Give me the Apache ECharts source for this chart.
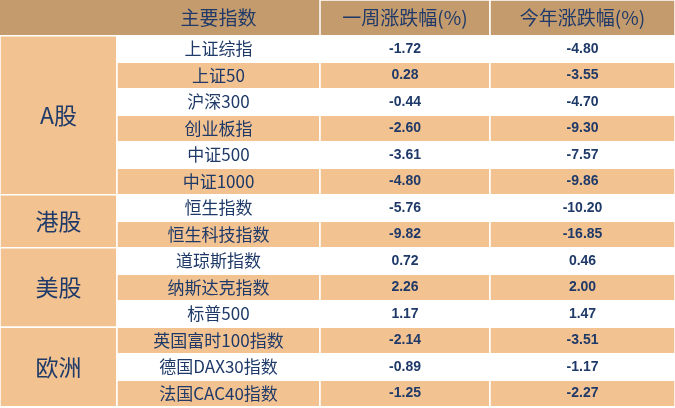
<!doctype html>
<html>
<head>
<meta charset="UTF-8">
<script src="https://cdn.jsdelivr.net/npm/echarts@6/dist/echarts.min.js"></script>
<style>html,body{margin:0;padding:0;background:#fff}</style>
</head>
<body>
<div id="main" style="width:675px;height:408px;"></div>
<script>
var headers = ['主要指数', '一周涨跌幅(%)', '今年涨跌幅(%)'];
var groups = ['A股', '港股', '美股', '欧洲'];
var groupSizes = [6, 2, 3, 3];
var names = ['上证综指', '上证50', '沪深300', '创业板指', '中证500', '中证1000', '恒生指数', '恒生科技指数',
    '道琼斯指数', '纳斯达克指数', '标普500', '英国富时100指数', '德国DAX30指数', '法国CAC40指数'];
var weekChg = [-1.72, 0.28, -0.44, -2.60, -3.61, -4.80, -5.76, -9.82, 0.72, 2.26, 1.17, -2.14, -0.89, -1.25];
var ytdChg = [-4.80, -3.55, -4.70, -9.30, -7.57, -9.86, -10.20, -16.85, 0.46, 2.00, 1.47, -3.51, -1.17, -2.27];

var colEdges = [0, 117, 320, 490, 675];
var HEAD = '#c49b6d', BAND = '#f2c291', WHITE = '#ffffff', TXT = '#1f3a68';

// cells: [x0, x1, y0, y1, text, fill, kind, stroke]
var cells = [];
cells.push([colEdges[0], colEdges[2], -1.35, 0, '', HEAD, 'h', 0]);
cells.push([colEdges[1], colEdges[2], -1.35, 0, headers[0], 'rgba(0,0,0,0)', 'h', 0]);
cells.push([colEdges[2], colEdges[3], -1.35, 0, headers[1], HEAD, 'h', 1]);
cells.push([colEdges[3], colEdges[4], -1.35, 0, headers[2], HEAD, 'h', 1]);
var start = 0;
for (var g = 0; g < groups.length; g++) {
    cells.push([colEdges[0], colEdges[1], start, start + groupSizes[g], groups[g], BAND, 'g', 1]);
    start += groupSizes[g];
}
for (var i = 0; i < names.length; i++) {
    var fill = i % 2 ? BAND : WHITE;
    cells.push([colEdges[1], colEdges[2], i, i + 1, names[i], fill, 'n', 1]);
    cells.push([colEdges[2], colEdges[3], i, i + 1, weekChg[i].toFixed(2), fill, 'v', 1]);
    cells.push([colEdges[3], colEdges[4], i, i + 1, ytdChg[i].toFixed(2), fill, 'v', 1]);
}

var fonts = {
    h: 'normal 19px "Noto Sans CJK SC"',
    g: 'normal 23px "Noto Sans CJK SC"',
    n: 'normal 17px "Noto Sans CJK SC"',
    v: 'bold 14px "Liberation Sans"'
};

var myChart = echarts.init(document.getElementById('main'));
myChart.setOption({
    animation: false,
    grid: {left: 0, right: 0, top: 0, bottom: 0},
    xAxis: {type: 'value', min: 0, max: 675, show: false},
    yAxis: {type: 'value', min: -1.35, max: 14.05, inverse: true, show: false},
    series: [{
        type: 'custom',
        data: cells,
        encode: {x: [0, 1], y: [2, 3]},
        renderItem: function (params, api) {
            var p0 = api.coord([api.value(0), api.value(2)]);
            var p1 = api.coord([api.value(1), api.value(3)]);
            var d = cells[params.dataIndex];
            return {
                type: 'group',
                children: [{
                    type: 'rect',
                    shape: {x: p0[0], y: p0[1], width: p1[0] - p0[0], height: p1[1] - p0[1]},
                    style: {fill: d[5], stroke: d[7] ? '#ffffff' : null, lineWidth: 1.5}
                }, {
                    type: 'text',
                    x: (p0[0] + p1[0]) / 2,
                    y: (p0[1] + p1[1]) / 2,
                    style: {text: d[4], font: fonts[d[6]], fill: TXT, align: 'center', verticalAlign: 'middle'}
                }]
            };
        }
    }]
});
</script>
</body>
</html>
